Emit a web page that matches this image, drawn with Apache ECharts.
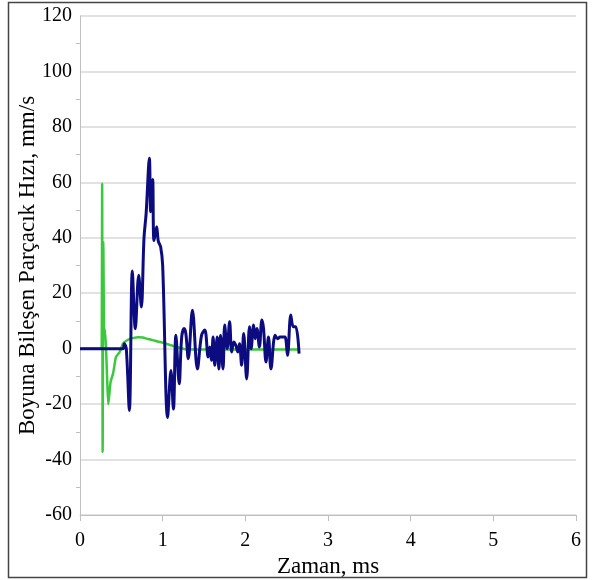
<!DOCTYPE html>
<html>
<head>
<meta charset="utf-8">
<script src="https://cdn.jsdelivr.net/npm/echarts@6/dist/echarts.min.js"></script>
<style>
html,body{margin:0;padding:0;background:#fff;}
#c{width:592px;height:580px;}
</style>
</head>
<body>
<div id="c"></div>
<script>
// Data (time in ms, velocity in mm/s)
var greenX = [0, 0.25, 0.262, 0.268, 0.274, 0.282, 0.292, 0.30, 0.315, 0.343, 0.37, 0.40, 0.435, 0.48, 0.52, 0.585, 0.65, 0.705, 0.76, 0.81, 0.89, 0.97, 1.07, 1.17, 1.27, 1.5, 2.0, 2.65];
var greenY = [0, 0, 0, 59.5, -37.3, 38.5, 5, 7.2, 0, -20, -12, -9, -3, -1.2, 1.8, 3.3, 3.9, 4.1, 4.0, 3.6, 3.0, 2.4, 1.5, 0.6, -0.2, -0.3, -0.3, -0.3];

var navyX = [0, 0.52, 0.536, 0.56, 0.597, 0.633, 0.669, 0.71, 0.742, 0.774, 0.80, 0.839, 0.855, 0.879, 0.895, 0.927, 0.947, 0.976, 1.0, 1.06, 1.10, 1.13, 1.16, 1.20, 1.23, 1.26, 1.28, 1.31, 1.36, 1.42, 1.47, 1.51, 1.55, 1.57, 1.59, 1.61, 1.63, 1.66, 1.68, 1.70, 1.73, 1.75, 1.78, 1.81, 1.835, 1.86, 1.885, 1.91, 1.93, 1.955, 1.98, 2.016, 2.05, 2.07, 2.10, 2.12, 2.14, 2.17, 2.20, 2.22, 2.25, 2.28, 2.31, 2.36, 2.39, 2.42, 2.45, 2.48, 2.51, 2.55, 2.58, 2.61, 2.65];
var navyY = [0, 0, 1.8, 0, -22.3, 28, 7.2, 26.5, 15, 39.8, 48.8, 68.7, 49.4, 61, 39, 44, 38.8, 36.7, 30, -24.8, -7.9, -21.8, 4.8, -12.7, 4.2, 7.3, 5.5, -3.6, 13.9, -7.3, 4.8, 6.7, -3, 0.6, -4.2, 4.2, -6, 4.2, -7.3, 4.8, -7.3, 8.5, 0, 9.7, -1.2, 2.4, 1.2, -1.2, 1.8, -6, 5.5, -10.9, 7.9, 0, 8.5, 3.6, 7.3, 0.6, 10.3, 7.3, -4.8, 4.2, -7.3, 4.8, 3.6, 4.2, 4.2, 4.2, -2.4, 12.1, 7.9, 7.9, -1.8];

var xTicks = [0, 1, 2, 3, 4, 5, 6];
var yTicks = [-60, -40, -20, 0, 20, 40, 60, 80, 100, 120];

function pairs(xs, ys) { return xs.map(function (x, i) { return [x, ys[i]]; }); }

var chart = echarts.init(document.getElementById('c'), null, {renderer: 'canvas'});
var font = '"Liberation Serif", "Times New Roman", serif';
chart.setOption({
  animation: false,
  backgroundColor: '#fff',
  grid: {left: 80, right: 16, top: 16, bottom: 65, containLabel: false, outerBoundsMode: 'none'},
  graphic: [{
    type: 'rect', shape: {x: 8.5, y: 2.5, width: 578, height: 575},
    style: {fill: 'none', stroke: '#444', lineWidth: 1.5}, silent: true, z: 100
  }],
  xAxis: {
    type: 'value', min: xTicks[0], max: xTicks[xTicks.length - 1], interval: 1,
    name: 'Zaman, ms', nameLocation: 'middle', nameGap: 38,
    nameTextStyle: {fontFamily: font, fontSize: 23, color: '#000'},
    axisLine: {onZero: false, lineStyle: {color: '#bfbfbf', width: 1}},
    axisTick: {show: true, inside: false, length: 6, lineStyle: {color: '#bfbfbf'}},
    axisLabel: {fontFamily: font, fontSize: 20, color: '#000', margin: 16},
    splitLine: {show: false}
  },
  yAxis: {
    type: 'value', min: yTicks[0], max: yTicks[yTicks.length - 1], interval: 20,
    name: 'Boyuna Bileşen Parçacık Hızı, mm/s', nameLocation: 'middle', nameGap: 41,
    nameMoveOverlap: false,
    nameTextStyle: {fontFamily: font, fontSize: 23, color: '#000'},
    axisLine: {show: true, lineStyle: {color: '#bfbfbf', width: 1}},
    axisTick: {show: false},
    minorTick: {show: true, splitNumber: 2, length: 4, lineStyle: {color: '#bfbfbf'}},
    axisLabel: {fontFamily: font, fontSize: 20, color: '#000', margin: 8},
    splitLine: {show: true, lineStyle: {color: '#d9d9d9', width: 1.5}}
  },
  series: [
    {
      type: 'line', data: pairs(greenX, greenY), showSymbol: false, smooth: 0.15,
      lineStyle: {color: '#3cc83c', width: 2.5}, z: 2
    },
    {
      type: 'line', data: pairs(navyX, navyY), showSymbol: false, smooth: 0.35,
      lineStyle: {color: '#0c0c80', width: 3}, z: 3
    }
  ]
});
</script>
</body>
</html>
